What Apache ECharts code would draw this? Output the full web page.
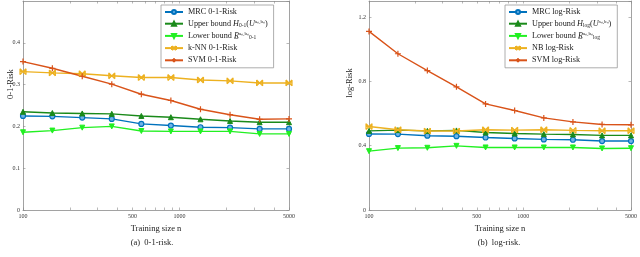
<!DOCTYPE html>
<html><head><meta charset="utf-8">
<script src="https://cdn.jsdelivr.net/npm/echarts@6/dist/echarts.min.js"></script>
<style>html,body{margin:0;padding:0;background:#fff}#c{width:640px;height:257px}</style>
</head><body><div id="c"></div>
<script>
const trainSizes = [100, 154, 239, 369, 570, 880, 1360, 2101, 3246, 5000];
const xMajorLabels = [100, 500, 1000, 5000];
const xTicks = [100,200,300,400,500,600,700,800,900,1000,2000,3000,4000,5000];

// (a) 0-1 risk
const mrc01 = [0.225, 0.224, 0.221, 0.218, 0.206, 0.202, 0.198, 0.197, 0.194, 0.194];
const upper01 = [0.235, 0.232, 0.231, 0.230, 0.225, 0.222, 0.217, 0.213, 0.210, 0.210];
const lower01 = [0.186, 0.190, 0.197, 0.200, 0.189, 0.188, 0.188, 0.188, 0.182, 0.182];
const knn01 = [0.331, 0.328, 0.326, 0.321, 0.317, 0.317, 0.311, 0.309, 0.304, 0.304];
const svm01 = [0.355, 0.339, 0.320, 0.301, 0.277, 0.262, 0.241, 0.228, 0.217, 0.218];

// (b) log risk
const mrcLog = [0.473, 0.472, 0.462, 0.459, 0.451, 0.445, 0.439, 0.437, 0.429, 0.429];
const upperLog = [0.492, 0.497, 0.492, 0.495, 0.482, 0.476, 0.472, 0.470, 0.464, 0.464];
const lowerLog = [0.366, 0.385, 0.387, 0.399, 0.389, 0.389, 0.389, 0.389, 0.383, 0.384];
const nbLog = [0.519, 0.499, 0.491, 0.491, 0.499, 0.497, 0.499, 0.495, 0.493, 0.493];
const svmLog = [1.111, 0.972, 0.867, 0.766, 0.660, 0.619, 0.573, 0.548, 0.532, 0.530];

const FONT = 'Liberation Serif';
const C = {mrc:'#0072BD', up:'#1a8a1a', low:'#22f022', knn:'#EDB120', svm:'#D95319'};
const SYM = {
  tri:'path://M5,0 L10,9 L0,9 Z',
  triDown:'path://M0,0 L10,0 L5,9 Z',
  star:'path://M0,0 L10,10 M10,0 L0,10 M0,0 L0,10 M10,0 L10,10 M0,5 L10,5',
  plus:'path://M5,0 L5,10 M0,5 L10,5'
};
function pts(ys){ return trainSizes.map((x,i)=>[x, ys[i]]); }
function ser(name, ys, idx, color, sym, kind){
  const s = {name, type:'line', xAxisIndex:idx*2, yAxisIndex:idx*2, data:pts(ys),
    symbol:sym, symbolSize:5, showSymbol:true,
    lineStyle:{color, width:1.4}, itemStyle:{color, borderColor:color, borderWidth:1},
    emphasis:{disabled:true}, animation:false, z:3};
  if (kind==='circle'){ s.itemStyle = {color:'#6fb3e6', borderColor:color, borderWidth:1.2}; s.symbolSize=5; }
  if (kind==='stroke'){ s.itemStyle = {color:'none', borderColor:color, borderWidth:1.2}; s.symbolSize=6; }
  return s;
}
const axisGray = '#8a8a8a';
function xAx(grid, pos, labels){
  return {type:'log', logBase:10, gridIndex:grid, position:pos, min:100, max:5000,
    axisLine:{show:true, onZero:false, lineStyle:{color:axisGray, width:0.8}},
    axisTick:{show:true, inside:true, length:2.5, customValues:xTicks, lineStyle:{color:axisGray, width:0.6}},
    minorTick:{show:false}, splitLine:{show:false},
    axisLabel:{show:labels, customValues:xMajorLabels, fontFamily:FONT, fontSize:6, color:'#333', margin:3, formatter:v=>String(Math.round(v))},
    name: labels ? 'Training size n' : '', nameLocation:'middle', nameGap:12,
    nameTextStyle:{fontFamily:FONT, fontSize:8.5, color:'#222'}};
}
function yAx(grid, pos, labels, max, interval){
  return {type:'value', gridIndex:grid, position:pos, min:0, max, interval,
    axisLine:{show:true, onZero:false, lineStyle:{color:axisGray, width:0.8}},
    axisTick:{show:true, inside:true, length:2.5, lineStyle:{color:axisGray, width:0.6}},
    splitLine:{show:false},
    axisLabel:{show:labels, showMaxLabel:false, fontFamily:FONT, fontSize:6, color:'#333', margin:3}};
}
const rich = {
  it:{fontFamily:FONT, fontStyle:'italic', fontSize:8.2, color:'#222'},
  sub:{fontFamily:FONT, fontSize:5.5, color:'#222', verticalAlign:'bottom', padding:[3,0,0,0]},
  sup:{fontFamily:FONT, fontSize:5, color:'#222', verticalAlign:'top', padding:[0,0,3,0]}
};
const legendLabels = {
  'Upper bound H01':'Upper bound {it|H}{sub|0-1}({it|U}{sup|aₙ,bₙ})',
  'Lower bound R01':'Lower bound {it|R̲}{sup|aₙ,bₙ}{sub|0-1}',
  'Upper bound Hlog':'Upper bound {it|H}{sub|log}({it|U}{sup|aₙ,bₙ})',
  'Lower bound Rlog':'Lower bound {it|R̲}{sup|aₙ,bₙ}{sub|log}'
};
function leg(left, names){
  return {left, top:5, orient:'vertical', data:names, itemWidth:18, itemHeight:5, itemGap:3.2,
    padding:[3,6,3,3], backgroundColor:'#fff', borderColor:'#999', borderWidth:0.8,
    selectedMode:false,
    textStyle:{fontFamily:FONT, fontSize:8.2, color:'#222', rich},
    formatter:n=>legendLabels[n]||n};
}
const chart = echarts.init(document.getElementById('c'), null, {renderer:'canvas'});
chart.setOption({
  animation:false,
  backgroundColor:'#fff',
  grid:[{left:23, top:1, width:266, height:209}, {left:369, top:1, width:264, height:209}],
  xAxis:[xAx(0,'bottom',true), xAx(0,'top',false), xAx(1,'bottom',true), xAx(1,'top',false)],
  yAxis:[yAx(0,'left',true,0.5,0.1), yAx(0,'right',false,0.5,0.1), yAx(1,'left',true,1.3,0.4), yAx(1,'right',false,1.3,0.4)],
  legend:[
    leg(161, ['MRC 0-1-Risk','Upper bound H01','Lower bound R01','k-NN 0-1-Risk','SVM 0-1-Risk']),
    leg(505, ['MRC log-Risk','Upper bound Hlog','Lower bound Rlog','NB log-Risk','SVM log-Risk'])
  ],
  title:[
    {text:'(a)  0-1-risk.', left:152, top:238, textAlign:'center', padding:0, textStyle:{fontFamily:FONT, fontSize:8.5, fontWeight:'normal', color:'#222'}},
    {text:'(b)  log-risk.', left:499, top:238, textAlign:'center', padding:0, textStyle:{fontFamily:FONT, fontSize:8.5, fontWeight:'normal', color:'#222'}}
  ],
  graphic:[
    {type:'text', x:11, y:84, rotation:Math.PI/2, style:{text:'0-1-Risk', fontFamily:FONT, fontSize:8.5, fill:'#222', align:'center', verticalAlign:'middle'}},
    {type:'text', x:350, y:83, rotation:Math.PI/2, style:{text:'log-Risk', fontFamily:FONT, fontSize:8.5, fill:'#222', align:'center', verticalAlign:'middle'}}
  ],
  series:[
    ser('MRC 0-1-Risk', mrc01, 0, C.mrc, 'circle', 'circle'),
    ser('Upper bound H01', upper01, 0, C.up, SYM.tri),
    ser('Lower bound R01', lower01, 0, C.low, SYM.triDown),
    ser('k-NN 0-1-Risk', knn01, 0, C.knn, SYM.star, 'stroke'),
    ser('SVM 0-1-Risk', svm01, 0, C.svm, SYM.plus, 'stroke'),
    ser('MRC log-Risk', mrcLog, 1, C.mrc, 'circle', 'circle'),
    ser('Upper bound Hlog', upperLog, 1, C.up, SYM.tri),
    ser('Lower bound Rlog', lowerLog, 1, C.low, SYM.triDown),
    ser('NB log-Risk', nbLog, 1, C.knn, SYM.star, 'stroke'),
    ser('SVM log-Risk', svmLog, 1, C.svm, SYM.plus, 'stroke')
  ]
});
</script></body></html>
